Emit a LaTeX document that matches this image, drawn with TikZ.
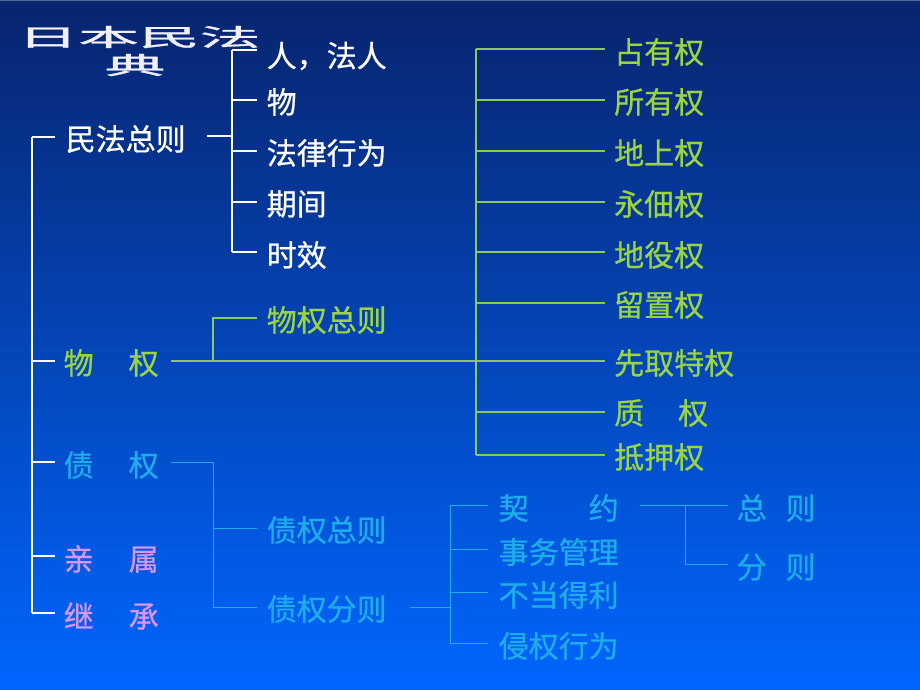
\documentclass[tikz,border=0pt]{standalone}
\usepackage{fontspec}
\usepackage{graphicx}
\setmainfont{Noto Sans CJK SC}
\newfontfamily\hei{Noto Sans CJK SC}[FakeBold=0.7]
\newfontfamily\heit{Noto Sans CJK SC}[FakeBold=1.2]
\usetikzlibrary{calc}
\definecolor{bgtop}{RGB}{8,36,110}
\definecolor{bgmid}{RGB}{0,74,205}
\definecolor{bgbot}{RGB}{0,102,255}
\definecolor{edge}{RGB}{80,105,150}
\definecolor{grn}{RGB}{155,212,65}
\definecolor{grnl}{RGB}{140,200,90}
\definecolor{cyn}{RGB}{30,172,235}
\definecolor{pnk}{RGB}{215,150,240}
\begin{document}
\begin{tikzpicture}[x=1pt,y=-1pt,
  txt/.style={inner sep=0pt, anchor=west, font=\hei\fontsize{30}{30}\selectfont},
  wt/.style={txt,text=white},
  gt/.style={txt,text=grn},
  ct/.style={txt,text=cyn},
  pt/.style={txt,text=pnk},
  ttl/.style={inner sep=0pt, anchor=center, text=white!94!blue},
  wl/.style={draw=white,line width=1.6pt},
  gl/.style={draw=grnl,line width=1.2pt},
  cl/.style={draw=cyn,line width=0.9pt}]
\useasboundingbox (0,0) rectangle (920,690);
\shade[top color=bgtop, middle color=bgmid, bottom color=bgbot] (0,0) rectangle (920,690);
\fill[edge] (0,0) rectangle (920,1.5);

% title
\node[ttl] (title) at (139,37) {\scalebox{2.53}[1]{\heit\fontsize{24}{24}\selectfont 日本民法}};
\node[ttl] (dian) at (135,65) {\scalebox{2.53}[1]{\heit\fontsize{24}{24}\selectfont 典}};

% first level
\node[wt] (zz) at (65.5,139) {民法总则};
\node[gt] (wq) at (63.5,363) {物\hspace{35pt}权};
\node[ct] (zq) at (63.5,465) {债\hspace{35pt}权};
\node[pt] (qs) at (63.5,559) {亲\hspace{35pt}属};
\node[pt] (jc) at (63.5,616) {继\hspace{35pt}承};

% general part
\node[wt] (ren) at (266.5,56) {人，法人};
\node[wt] (wu) at (266.5,102) {物};
\node[wt] (fl) at (266.5,153) {法律行为};
\node[wt] (qj) at (266.5,204) {期间};
\node[wt] (sx) at (266.5,255) {时效};

% property
\node[gt] (wqzz) at (266.5,320) {物权总则};
\node[gt] (zy) at (614,52) {占有权};
\node[gt] (sy) at (614,102) {所有权};
\node[gt] (ds) at (614,153) {地上权};
\node[gt] (yd) at (614,204) {永佃权};
\node[gt] (dy) at (614,255) {地役权};
\node[gt] (lz) at (614,305) {留置权};
\node[gt] (xq) at (614,363) {先取特权};
\node[gt] (zhi) at (614,413) {质\hspace{34pt}权};
\node[gt] (dyq) at (614,457) {抵押权};

% obligations
\node[ct] (zqzz) at (266.5,530) {债权总则};
\node[ct] (zqfz) at (266.5,609) {债权分则};
\node[ct] (qy) at (498.5,508) {契\hspace{60pt}约};
\node[ct] (sw) at (498.5,552) {事务管理};
\node[ct] (bd) at (498.5,595) {不当得利};
\node[ct] (qq) at (498.5,646) {侵权行为};
\node[ct] (zg) at (736.5,508) {总\hspace{19pt}则};
\node[ct] (fg) at (736.5,567) {分\hspace{19pt}则};

% ---- white tree
\coordinate (wA) at (32,137);
\coordinate (wB) at (32,613);
\draw[wl] (wA) -- (wB);
\draw[wl] (wA) -- (55,137);
\draw[wl] (32,361) -- (55,361);
\draw[wl] (32,462) -- (55,462);
\draw[wl] (32,556) -- (55,556);
\draw[wl] (wB) -- (55,613);
\coordinate (gA) at (232,50);
\coordinate (gB) at (232,252);
\draw[wl] (207,136) -- (232,136);
\draw[wl] (gA) -- (gB);
\draw[wl] (gA) -- (257,50);
\draw[wl] (232,100) -- (257,100);
\draw[wl] (232,151) -- (257,151);
\draw[wl] (232,202) -- (257,202);
\draw[wl] (gB) -- (257,252);

% ---- green tree
\draw[gl] (171,361) -- (605,361);
\draw[gl] (213,361) -- (213,318) -- (257,318);
\coordinate (pA) at (476,49);
\coordinate (pB) at (476,455);
\draw[gl] (pA) -- (pB);
\foreach \yy in {49,100,151,202,252,303,412,455}
  \draw[gl] (476,\yy) -- (605,\yy);

% ---- cyan tree
\draw[cl] (171,462) -- (213,462) -- (213,607) -- (257,607);
\draw[cl] (213,528) -- (257,528);
\draw[cl] (410,607) -- (450,607);
\draw[cl] (450,505) -- (450,643);
\foreach \yy in {505,549,592,643}
  \draw[cl] (450,\yy) -- (488,\yy);
\draw[cl] (640,505) -- (728,505);
\draw[cl] (685,505) -- (685,564) -- (728,564);
\end{tikzpicture}
\end{document}
